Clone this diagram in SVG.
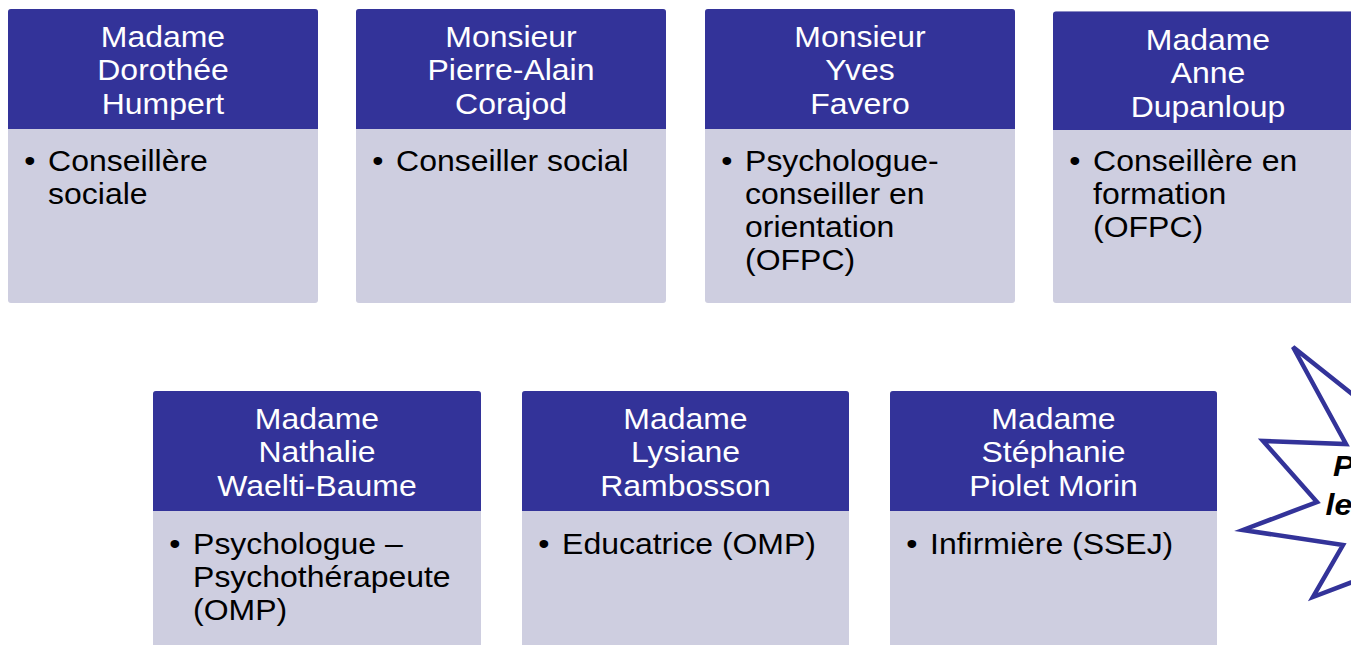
<svg xmlns="http://www.w3.org/2000/svg" width="1351" height="645" viewBox="0 0 1351 645">
<style>
.hd{fill:#333399}
.bd{fill:#CECEE0}
text{font-family:"Liberation Sans",Arial,sans-serif;font-size:30px}
.h{fill:#ffffff;text-anchor:middle}
.b{fill:#000000}
.star{fill:#ffffff;stroke:#333399;stroke-width:4.5;stroke-linejoin:miter}
.st{font-weight:bold;font-style:italic;fill:#000000}
</style>
<rect width="1351" height="645" fill="#ffffff"/>

<g id="card1">
<rect class="bd" x="8" y="9" width="310" height="294" rx="3"/>
<path class="hd" d="M8,12 a3,3 0 0 1 3,-3 h304 a3,3 0 0 1 3,3 V129 H8 Z"/>
<g transform="translate(163,1) scale(1.065,1)"><text class="h"><tspan x="0" y="46">Madame</tspan><tspan x="0" y="79.5">Dorothée</tspan><tspan x="0" y="113">Humpert</tspan></text></g>
<g transform="translate(30,1) scale(1.065,1)"><text class="b"><tspan x="-5.3" y="170.5">•</tspan><tspan x="17" y="170.5">Conseillère</tspan><tspan x="17" y="203.5">sociale</tspan></text></g>
</g>

<g id="card2">
<rect class="bd" x="356" y="9" width="310" height="294" rx="3"/>
<path class="hd" d="M356,12 a3,3 0 0 1 3,-3 h304 a3,3 0 0 1 3,3 V129 H356 Z"/>
<g transform="translate(511,1) scale(1.065,1)"><text class="h"><tspan x="0" y="46">Monsieur</tspan><tspan x="0" y="79.5">Pierre-Alain</tspan><tspan x="0" y="113">Corajod</tspan></text></g>
<g transform="translate(378,1) scale(1.065,1)"><text class="b"><tspan x="-5.3" y="170.5">•</tspan><tspan x="17" y="170.5">Conseiller social</tspan></text></g>
</g>

<g id="card3">
<rect class="bd" x="705" y="9" width="310" height="294" rx="3"/>
<path class="hd" d="M705,12 a3,3 0 0 1 3,-3 h304 a3,3 0 0 1 3,3 V129 H705 Z"/>
<g transform="translate(860,1) scale(1.065,1)"><text class="h"><tspan x="0" y="46">Monsieur</tspan><tspan x="0" y="79.5">Yves</tspan><tspan x="0" y="113">Favero</tspan></text></g>
<g transform="translate(727,1) scale(1.065,1)"><text class="b"><tspan x="-5.3" y="170.5">•</tspan><tspan x="17" y="170.5">Psychologue-</tspan><tspan x="17" y="203.5">conseiller en</tspan><tspan x="17" y="236.5">orientation</tspan><tspan x="17" y="269.5">(OFPC)</tspan></text></g>
</g>

<g id="card4">
<rect class="bd" x="1053" y="11.5" width="310" height="291.5" rx="3"/>
<path class="hd" d="M1053,14.5 a3,3 0 0 1 3,-3 h304 a3,3 0 0 1 3,3 V130 H1053 Z"/>
<g transform="translate(1208,1) scale(1.065,1)"><text class="h"><tspan x="0" y="49">Madame</tspan><tspan x="0" y="82.5">Anne</tspan><tspan x="0" y="116">Dupanloup</tspan></text></g>
<g transform="translate(1075,1) scale(1.065,1)"><text class="b"><tspan x="-5.3" y="170.5">•</tspan><tspan x="17" y="170.5">Conseillère en</tspan><tspan x="17" y="203.5">formation</tspan><tspan x="17" y="236.5">(OFPC)</tspan></text></g>
</g>

<g id="card5">
<rect class="bd" x="153" y="391" width="328" height="280" rx="3"/>
<path class="hd" d="M153,394 a3,3 0 0 1 3,-3 h322 a3,3 0 0 1 3,3 V511 H153 Z"/>
<g transform="translate(317,1) scale(1.065,1)"><text class="h"><tspan x="0" y="428">Madame</tspan><tspan x="0" y="461.5">Nathalie</tspan><tspan x="0" y="495">Waelti-Baume</tspan></text></g>
<g transform="translate(175,1) scale(1.065,1)"><text class="b"><tspan x="-5.3" y="553.5">•</tspan><tspan x="17" y="553.5">Psychologue –</tspan><tspan x="17" y="586.5">Psychothérapeute</tspan><tspan x="17" y="619.5">(OMP)</tspan></text></g>
</g>

<g id="card6">
<rect class="bd" x="522" y="391" width="327" height="280" rx="3"/>
<path class="hd" d="M522,394 a3,3 0 0 1 3,-3 h321 a3,3 0 0 1 3,3 V511 H522 Z"/>
<g transform="translate(685.5,1) scale(1.065,1)"><text class="h"><tspan x="0" y="428">Madame</tspan><tspan x="0" y="461.5">Lysiane</tspan><tspan x="0" y="495">Rambosson</tspan></text></g>
<g transform="translate(544,1) scale(1.065,1)"><text class="b"><tspan x="-5.3" y="553.5">•</tspan><tspan x="17" y="553.5">Educatrice (OMP)</tspan></text></g>
</g>

<g id="card7">
<rect class="bd" x="890" y="391" width="327" height="280" rx="3"/>
<path class="hd" d="M890,394 a3,3 0 0 1 3,-3 h321 a3,3 0 0 1 3,3 V511 H890 Z"/>
<g transform="translate(1053.5,1) scale(1.065,1)"><text class="h"><tspan x="0" y="428">Madame</tspan><tspan x="0" y="461.5">Stéphanie</tspan><tspan x="0" y="495">Piolet Morin</tspan></text></g>
<g transform="translate(912,1) scale(1.065,1)"><text class="b"><tspan x="-5.3" y="553.5">•</tspan><tspan x="17" y="553.5">Infirmière (SSEJ)</tspan></text></g>
</g>

<g id="starburst">
<path class="star" d="M1410,440 L1293,347 L1346,444 L1263,441 L1317,502 L1243,530 L1343,545 L1313,597 L1410,560 Z"/>
<g transform="translate(1333,1) scale(1.065,1)"><text class="st"><tspan x="0" y="475">P</tspan><tspan x="-7" y="514">le</tspan></text></g>
</g>

<g id="connectors"></g>
</svg>
